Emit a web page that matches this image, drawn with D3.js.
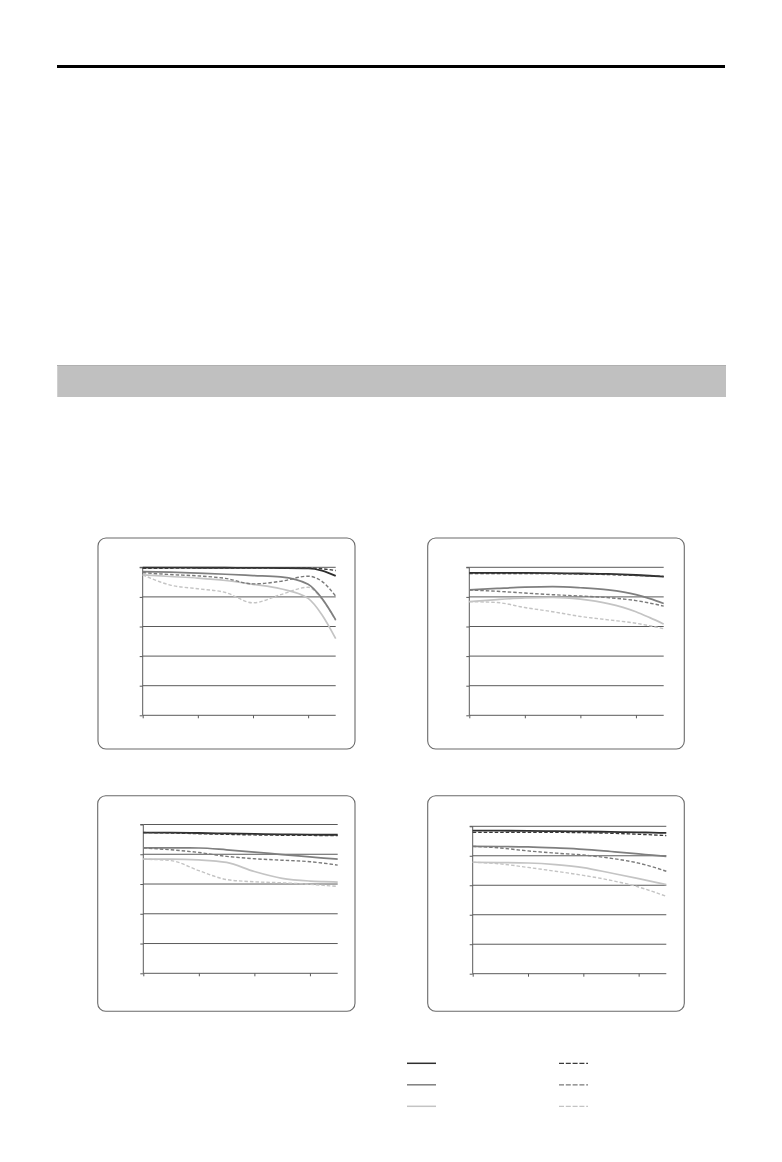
<!DOCTYPE html>
<html>
<head>
<meta charset="utf-8">
<script src="https://cdn.jsdelivr.net/npm/d3@7/dist/d3.min.js"></script>
<style>
  html, body { margin: 0; padding: 0; background: #fff; }
  svg { display: block; }
</style>
</head>
<body>
<svg id="page" width="782" height="1162"></svg>
<script>
// ---------- data ----------
const xValues = [0, 0.5, 1, 1.5, 2, 2.5, 3, 3.25, 3.5];
const xTicks = [0, 1, 2, 3];
const yTicks = [0, 0.2, 0.4, 0.6, 0.8, 1.0];
const seriesKeys = ["darkSolid", "darkDash", "medSolid", "medDash", "lightSolid", "lightDash"];

const chart1DarkSolid  = [0.998, 0.998, 0.997, 0.997, 0.996, 0.995, 0.993, 0.978, 0.942];
const chart1DarkDash   = [0.993, 0.994, 0.995, 0.995, 0.995, 0.995, 0.995, 0.990, 0.978];
const chart1MedSolid   = [0.971, 0.967, 0.960, 0.953, 0.944, 0.935, 0.885, 0.790, 0.645];
const chart1MedDash    = [0.964, 0.951, 0.942, 0.925, 0.888, 0.905, 0.940, 0.905, 0.805];
const chart1LightSolid = [0.949, 0.938, 0.927, 0.911, 0.885, 0.855, 0.790, 0.680, 0.518];
const chart1LightDash  = [0.949, 0.880, 0.855, 0.830, 0.760, 0.815, 0.865, 0.785, 0.640];

const chart2DarkSolid  = [0.962, 0.962, 0.962, 0.961, 0.958, 0.955, 0.948, 0.943, 0.937];
const chart2DarkDash   = [0.958, 0.958, 0.958, 0.957, 0.955, 0.951, 0.945, 0.942, 0.938];
const chart2MedSolid   = [0.847, 0.857, 0.866, 0.870, 0.862, 0.847, 0.815, 0.788, 0.755];
const chart2MedDash    = [0.847, 0.838, 0.826, 0.815, 0.806, 0.795, 0.775, 0.758, 0.738];
const chart2LightSolid = [0.768, 0.782, 0.793, 0.797, 0.785, 0.755, 0.700, 0.660, 0.617];
const chart2LightDash  = [0.768, 0.762, 0.728, 0.700, 0.668, 0.645, 0.622, 0.605, 0.585];

const chart3DarkSolid  = [0.946, 0.945, 0.943, 0.940, 0.937, 0.934, 0.932, 0.931, 0.931];
const chart3DarkDash   = [0.946, 0.943, 0.938, 0.934, 0.930, 0.928, 0.927, 0.926, 0.926];
const chart3MedSolid   = [0.843, 0.843, 0.842, 0.830, 0.815, 0.798, 0.782, 0.774, 0.767];
const chart3MedDash    = [0.843, 0.830, 0.812, 0.786, 0.770, 0.760, 0.750, 0.740, 0.727];
const chart3LightSolid = [0.767, 0.767, 0.762, 0.745, 0.684, 0.638, 0.620, 0.616, 0.613];
const chart3LightDash  = [0.767, 0.757, 0.690, 0.630, 0.615, 0.608, 0.598, 0.591, 0.584];

const chart4DarkSolid  = [0.971, 0.970, 0.969, 0.967, 0.965, 0.962, 0.959, 0.957, 0.955];
const chart4DarkDash   = [0.959, 0.959, 0.959, 0.959, 0.957, 0.953, 0.946, 0.942, 0.937];
const chart4MedSolid   = [0.864, 0.863, 0.860, 0.853, 0.844, 0.829, 0.813, 0.804, 0.796];
const chart4MedDash    = [0.864, 0.853, 0.833, 0.818, 0.805, 0.783, 0.750, 0.725, 0.695];
const chart4LightSolid = [0.756, 0.754, 0.751, 0.740, 0.720, 0.683, 0.645, 0.625, 0.604];
const chart4LightDash  = [0.756, 0.745, 0.721, 0.695, 0.667, 0.633, 0.588, 0.558, 0.525];

// ---------- styles & layout ----------
const styles = {
  darkSolid:  { color: "#2e2e2e", width: 1.8, dash: null },
  darkDash:   { color: "#3a3a3a", width: 1.4, dash: "3.5,2" },
  medSolid:   { color: "#7f7f7f", width: 1.7, dash: null },
  medDash:    { color: "#7a7a7a", width: 1.4, dash: "3.5,2" },
  lightSolid: { color: "#c4c4c4", width: 1.7, dash: null },
  lightDash:  { color: "#c4c4c4", width: 1.4, dash: "3.5,2" }
};

const panels = [
  { box: [98, 538, 257, 211],   plot: [142.7, 567.3, 193, 148],
    data: [chart1DarkSolid, chart1DarkDash, chart1MedSolid, chart1MedDash, chart1LightSolid, chart1LightDash] },
  { box: [427.7, 538, 256.6, 211], plot: [469.3, 567.3, 194.4, 148],
    data: [chart2DarkSolid, chart2DarkDash, chart2MedSolid, chart2MedDash, chart2LightSolid, chart2LightDash] },
  { box: [97.7, 795.7, 257.3, 215.6], plot: [143.3, 824.5, 194.4, 148.8],
    data: [chart3DarkSolid, chart3DarkDash, chart3MedSolid, chart3MedDash, chart3LightSolid, chart3LightDash] },
  { box: [427.7, 795.7, 256.6, 215.6], plot: [472.7, 826.3, 193.6, 147.4],
    data: [chart4DarkSolid, chart4DarkDash, chart4MedSolid, chart4MedDash, chart4LightSolid, chart4LightDash] }
];

const svg = d3.select("#page");

// top rule
svg.append("rect").attr("x", 57).attr("y", 65).attr("width", 668).attr("height", 3).attr("fill", "#000");

// grey header bar
svg.append("rect").attr("x", 57).attr("y", 365).attr("width", 669).attr("height", 32).attr("fill", "#c0c0c0");
svg.append("line").attr("x1", 57).attr("x2", 726).attr("y1", 365.5).attr("y2", 365.5).attr("stroke", "#b0b0b0").attr("stroke-width", 1);
svg.append("line").attr("x1", 57.5).attr("x2", 57.5).attr("y1", 366).attr("y2", 397).attr("stroke", "#cfcfcf").attr("stroke-width", 1);

const gridColor = "#5a5a5a";

panels.forEach(p => {
  const [bx, by, bw, bh] = p.box;
  const [px, py, pw, ph] = p.plot;
  svg.append("rect")
    .attr("x", bx).attr("y", by).attr("width", bw).attr("height", bh)
    .attr("rx", 8).attr("ry", 8)
    .attr("fill", "#fff").attr("stroke", "#6a6a6a").attr("stroke-width", 1.1);

  const x = d3.scaleLinear().domain([0, 3.5]).range([px, px + pw]);
  const y = d3.scaleLinear().domain([0, 1]).range([py + ph, py]);

  const g = svg.append("g");
  // horizontal gridlines
  g.selectAll("line.grid").data(yTicks.filter(t => t > 0)).join("line")
    .attr("class", "grid")
    .attr("x1", px).attr("x2", px + pw)
    .attr("y1", d => y(d)).attr("y2", d => y(d))
    .attr("stroke", gridColor).attr("stroke-width", 1);

  // y axis
  const yAxis = d3.axisLeft(y).tickValues(yTicks).tickSize(3).tickFormat(() => "");
  const ya = g.append("g").attr("transform", `translate(${px},0)`).call(yAxis);
  ya.selectAll("path, line").attr("stroke", gridColor).attr("stroke-width", 1);
  ya.select("path").attr("d", `M-3,${y(1)}H0V${y(0)}`);

  // x axis
  const xAxis = d3.axisBottom(x).tickValues(xTicks).tickSize(3).tickFormat(() => "");
  const xa = g.append("g").attr("transform", `translate(0,${py + ph})`).call(xAxis);
  xa.selectAll("path, line").attr("stroke", gridColor).attr("stroke-width", 1);
  xa.select("path").attr("d", `M${px},0H${px + pw}`);

  const line = d3.line()
    .x((d, i) => x(xValues[i]))
    .y(d => y(d))
    .curve(d3.curveMonotoneX);

  // draw light first, dark last
  const order = [4, 5, 2, 3, 0, 1];
  order.forEach(k => {
    const st = styles[seriesKeys[k]];
    g.append("path")
      .datum(p.data[k])
      .attr("d", line)
      .attr("fill", "none")
      .attr("stroke", st.color)
      .attr("stroke-width", st.width)
      .attr("stroke-dasharray", st.dash)
      .attr("stroke-linejoin", "round");
  });
});

// legend
const legendRows = [0, 1, 2];
const legendY = d3.scalePoint().domain(legendRows).range([1063.3, 1106.3]);
const legendG = svg.append("g");
legendRows.forEach(r => {
  const solid = styles[seriesKeys[r * 2]];
  const dash = styles[seriesKeys[r * 2 + 1]];
  legendG.append("line")
    .attr("x1", 407).attr("x2", 436)
    .attr("y1", legendY(r)).attr("y2", legendY(r))
    .attr("stroke", solid.color).attr("stroke-width", 1.5);
  legendG.append("line")
    .attr("x1", 559).attr("x2", 588)
    .attr("y1", legendY(r)).attr("y2", legendY(r))
    .attr("stroke", dash.color).attr("stroke-width", 1.3)
    .attr("stroke-dasharray", "5,1.8");
});
</script>
</body>
</html>
